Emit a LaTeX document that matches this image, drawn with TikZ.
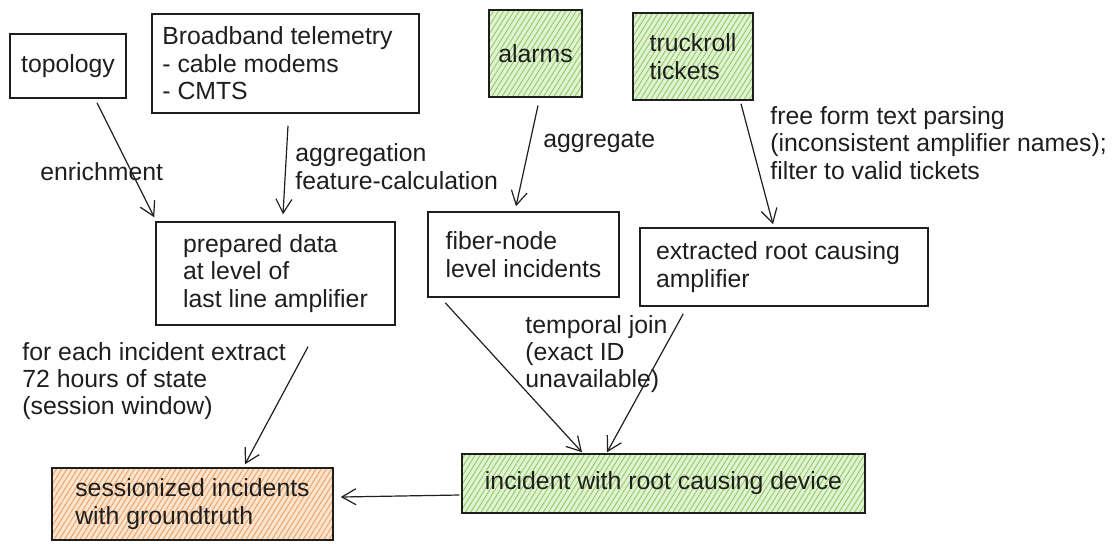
\documentclass[tikz,border=0pt]{standalone}
\usepackage{fontspec}
\setmainfont{Liberation Sans}
\usetikzlibrary{arrows.meta,calc,patterns.meta}

\definecolor{ink}{RGB}{30,30,30}
\definecolor{greenbg}{RGB}{226,243,210}
\definecolor{greenhatch}{RGB}{145,202,105}
\definecolor{orangebg}{RGB}{251,228,206}
\definecolor{orangehatch}{RGB}{236,160,100}

\tikzset{
  txt/.style={font=\fontsize{12.4}{13.7}\selectfont, text=ink},
  box/.style={txt, draw=ink, line width=0.75pt, align=left, inner sep=0pt},
  greenbox/.style={box, preaction={fill=greenbg},
    pattern={Lines[angle=58,distance=2.2pt,line width=0.45pt]}, pattern color=greenhatch},
  orangebox/.style={box, preaction={fill=orangebg},
    pattern={Lines[angle=58,distance=2.2pt,line width=0.45pt]}, pattern color=orangehatch},
  lbl/.style={txt, align=left, inner sep=0pt, anchor=west},
  flow/.style={draw=ink, line width=0.6pt, -{Straight Barb[length=7pt,width=8pt]}}
}

\begin{document}
\begin{tikzpicture}[x=0.5pt, y=-0.5pt]
  \useasboundingbox (0,0) rectangle (1117,543);

  % sources
  \node[box, minimum width=58pt, minimum height=32pt] (topology) at (68,66) {topology};
  \node[box, minimum width=133.5pt, minimum height=49.5pt] (telemetry) at (285.5,63.5)
    {Broadband telemetry\hspace*{8pt}\\- cable modems\\- CMTS};
  \node[greenbox, minimum width=46.5pt, minimum height=43.5pt] (alarms) at (535.5,53.5) {alarms};
  \node[greenbox, minimum width=60pt, minimum height=43.5pt] (tickets) at (693,56.5) {truckroll\\tickets};

  % intermediate
  \node[box, minimum width=119.5pt, minimum height=51.5pt] (prepared) at (275.5,273.5)
    {prepared data\\at level of\\last line amplifier};
  \node[box, minimum width=95.5pt, minimum height=42.5pt] (fibernode) at (523.5,254.5)
    {fiber-node\\level incidents};
  \node[box, minimum width=144pt, minimum height=39pt] (extracted) at (784,267)
    {extracted root causing\hspace*{6pt}\\amplifier};

  % results
  \node[greenbox, minimum width=201.5pt, minimum height=29.5pt] (incident) at (663.5,483.5)
    {incident with root causing device};
  \node[orangebox, minimum width=140.5pt, minimum height=36pt] (sessions) at (192.5,504)
    {sessionized incidents\\with groundtruth};

  % labels
  \node[lbl] (enrich) at (40,172) {enrichment};
  \node[lbl] (aggr) at (295,166.5) {aggregation\\feature-calculation};
  \node[lbl] (aggrt) at (543,142) {aggregate};
  \node[lbl] (parse) at (770,143) {free form text parsing\\(inconsistent amplifier names);\\filter to valid tickets};
  \node[lbl] (window) at (22,381) {for each incident extract\\72 hours of state\\(session window)};
  \node[lbl] (tjoin) at (525,354) {temporal join\\(exact ID\\unavailable)};

  % connectors
  \draw[flow] ($(topology.south)+(29,4)$) -- ($(prepared.north west)+(-1,-4)$);
  \draw[flow] ($(telemetry.south)+(2.5,12)$) -- ($(prepared.north)+(7.5,-7)$);
  \draw[flow] ($(alarms.south)+(2.5,8)$) -- ($(fibernode.north)+(-7.5,-5)$);
  \draw[flow] ($(tickets.south)+(48,3)$) -- ($(extracted.north)+(-11,-3)$);
  \draw[flow] ($(prepared.south)+(32.5,21)$) -- ($(sessions.north)+(52.5,-3)$);
  \draw[flow] ($(fibernode.south west)+(18,5)$) -- ($(incident.north)+(-81.5,-1)$);
  \draw[flow] ($(extracted.south west)+(44,7)$) -- ($(incident.north)+(-56.5,-1)$);
  \draw[flow] ($(incident.west)+(-2,11.5)$) -- ($(sessions.east)+(7,-7)$);
\end{tikzpicture}
\end{document}
